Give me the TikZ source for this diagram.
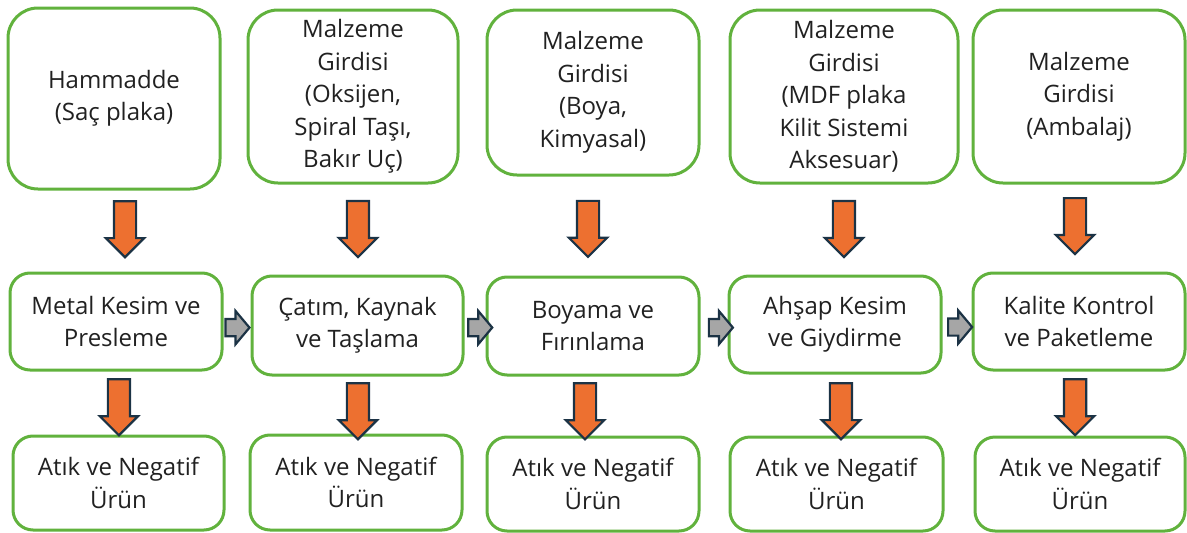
\documentclass[tikz,border=0pt]{standalone}
\usepackage{fontspec}
\setmainfont{Open Sans}
\usetikzlibrary{shapes.arrows}
\definecolor{boxgreen}{rgb}{0.38, 0.70, 0.24}
\definecolor{arroworange}{rgb}{0.93, 0.44, 0.19}
\definecolor{arrowline}{rgb}{0.11, 0.20, 0.27}
\definecolor{arrowgray}{rgb}{0.65, 0.65, 0.65}
\definecolor{textgray}{rgb}{0.13, 0.13, 0.13}
\newlength{\du}
\setlength{\du}{1pt}
\tikzset{
  girdi/.style={draw=boxgreen, line width=3\du, rounded corners=30\du, fill=white,
    align=center, text=textgray, font=\fontsize{24}{32.5}\selectfont, inner sep=0pt},
  islem/.style={girdi, rounded corners=20\du},
  atik/.style={girdi, rounded corners=20\du},
  downarrow/.style={single arrow, shape border rotate=270, fill=arroworange, draw=arrowline,
    line width=2.2\du, minimum height=56\du, inner ysep=0pt, inner xsep=10\du,
    single arrow head extend=8\du, single arrow head indent=0pt, anchor=tail},
  rightarrow/.style={single arrow, fill=arrowgray, draw=arrowline, line width=2.2\du,
    minimum height=24\du, inner xsep=0pt, inner ysep=7.5\du, single arrow tip angle=100,
    single arrow head extend=8\du, single arrow head indent=0pt, anchor=tail}
}
\begin{document}
\begin{tikzpicture}
\pgftransformyscale{-1.000000}
\useasboundingbox (0\du,0\du) rectangle (1187\du,533\du);
% girdiler
\node[girdi, minimum width=212\du, minimum height=181\du] (h1) at (114\du,98.5\du){Hammadde\\(Saç plaka)};
\node[girdi, minimum width=210\du, minimum height=173\du] (h2) at (353\du,96.5\du){Malzeme\\Girdisi\\(Oksijen,\\Spiral Taşı,\\Bakır Uç)};
\node[girdi, minimum width=212\du, minimum height=165\du] (h3) at (593\du,92.5\du){Malzeme\\Girdisi\\(Boya,\\Kimyasal)};
\node[girdi, minimum width=228\du, minimum height=173\du] (h4) at (844\du,96.5\du){Malzeme\\Girdisi\\(MDF plaka\\Kilit Sistemi\\Aksesuar)};
\node[girdi, minimum width=212\du, minimum height=173\du] (h5) at (1079\du,96.5\du){Malzeme\\Girdisi\\(Ambalaj)};
% islemler
\node[islem, minimum width=212\du, minimum height=97\du] (m1) at (116\du,321.5\du){Metal Kesim ve\\Presleme};
\node[islem, minimum width=211\du, minimum height=99\du] (m2) at (357.5\du,325.5\du){Çatım, Kaynak\\ve Taşlama};
\node[islem, minimum width=212\du, minimum height=98\du] (m3) at (593\du,326\du){Boyama ve\\Fırınlama};
\node[islem, minimum width=212\du, minimum height=97\du] (m4) at (835\du,324.5\du){Ahşap Kesim\\ve Giydirme};
\node[islem, minimum width=212\du, minimum height=97\du] (m5) at (1079\du,321.5\du){Kalite Kontrol\\ve Paketleme};
% atiklar
\node[atik, minimum width=211\du, minimum height=94\du] (a1) at (118.5\du,483\du){Atık ve Negatif\\Ürün};
\node[atik, minimum width=212\du, minimum height=95\du] (a2) at (356\du,482.5\du){Atık ve Negatif\\Ürün};
\node[atik, minimum width=212\du, minimum height=94\du] (a3) at (593\du,484\du){Atık ve Negatif\\Ürün};
\node[atik, minimum width=213\du, minimum height=94\du] (a4) at (836.5\du,484\du){Atık ve Negatif\\Ürün};
\node[atik, minimum width=210\du, minimum height=94\du] (a5) at (1080\du,484\du){Atık ve Negatif\\Ürün};
% girdi -> islem
\path (h1.south) -- (m1.north) node[downarrow, pos=0.119, xshift=10.8\du]{};
\path (h2.south) -- (m2.north) node[downarrow, pos=0.172, xshift=4.2\du]{};
\path (h3.south) -- (m3.north) node[downarrow, pos=0.235, xshift=-5\du]{};
\path (h4.south) -- (m4.north) node[downarrow, pos=0.172, xshift=1.5\du]{};
\path (h5.south) -- (m5.north) node[downarrow, pos=0.144, xshift=-4\du]{};
% islem -> atik
\path (m1.south) -- (a1.north) node[downarrow, pos=0.106, xshift=2.7\du]{};
\path (m2.south) -- (a2.north) node[downarrow, pos=0.1, xshift=0.6\du]{};
\path (m3.south) -- (a3.north) node[downarrow, pos=0.097, xshift=-8\du]{};
\path (m4.south) -- (a4.north) node[downarrow, pos=0.125, xshift=5.8\du]{};
\path (m5.south) -- (a5.north) node[downarrow, pos=0.104, xshift=-4\du]{};
% islem -> islem
\path (m1.east) -- (m2.west) node[rightarrow, pos=0.033, yshift=-6\du]{};
\path (m2.east) -- (m3.west) node[rightarrow, pos=0.125, yshift=-2\du]{};
\path (m3.east) -- (m4.west) node[rightarrow, pos=0.27, yshift=-2\du]{};
\path (m4.east) -- (m5.west) node[rightarrow, pos=0.156, yshift=-3\du]{};
\end{tikzpicture}
\end{document}
